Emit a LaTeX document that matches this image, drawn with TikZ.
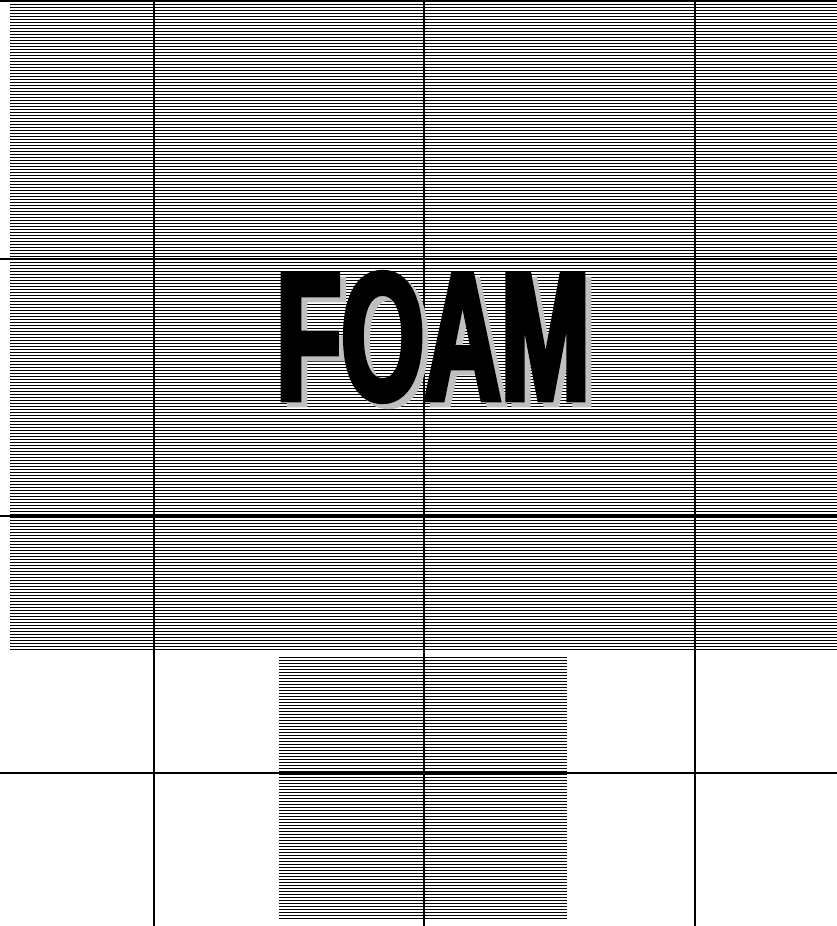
\documentclass[tikz,border=0pt]{standalone}
\usepackage{fontspec}
\newfontfamily\foamfont{Liberation Sans Bold}[FakeStretch=0.585, FakeBold=3]
\definecolor{shadowgrey}{HTML}{C0C0C0}
\tikzset{
  hatchline/.style={line width=1.6pt, black},
  gridline/.style={line width=2pt, black},
  foamtext/.style={inner sep=0pt, font=\foamfont\fontsize{182}{182}\selectfont}
}
\begin{document}
\begin{tikzpicture}[x=1pt,y=-1pt]
\useasboundingbox[fill=white] (0,0) rectangle (837,926);
% hatching, upper block
\foreach \y in {4.5,7.5,...,652} {\draw[hatchline] (10,\y) -- (837,\y);}
% hatching, lower block
\foreach \y in {657.5,660.5,...,920} {\draw[hatchline] (279,\y) -- (567,\y);}
% grid
\draw[gridline] (0,1) -- (837,1);
\foreach \x in {154,424,695} {\draw[gridline] (\x,0) -- (\x,926);}
\foreach \y in {259,516,773} {\draw[gridline] (0,\y) -- (837,\y);}
% FOAM with shadow
\node[foamtext, text=shadowgrey] (foamshadow) at (439,342) {FOAM};
\node[foamtext, text=black] (foam) at (433,337) {FOAM};
\end{tikzpicture}
\end{document}
